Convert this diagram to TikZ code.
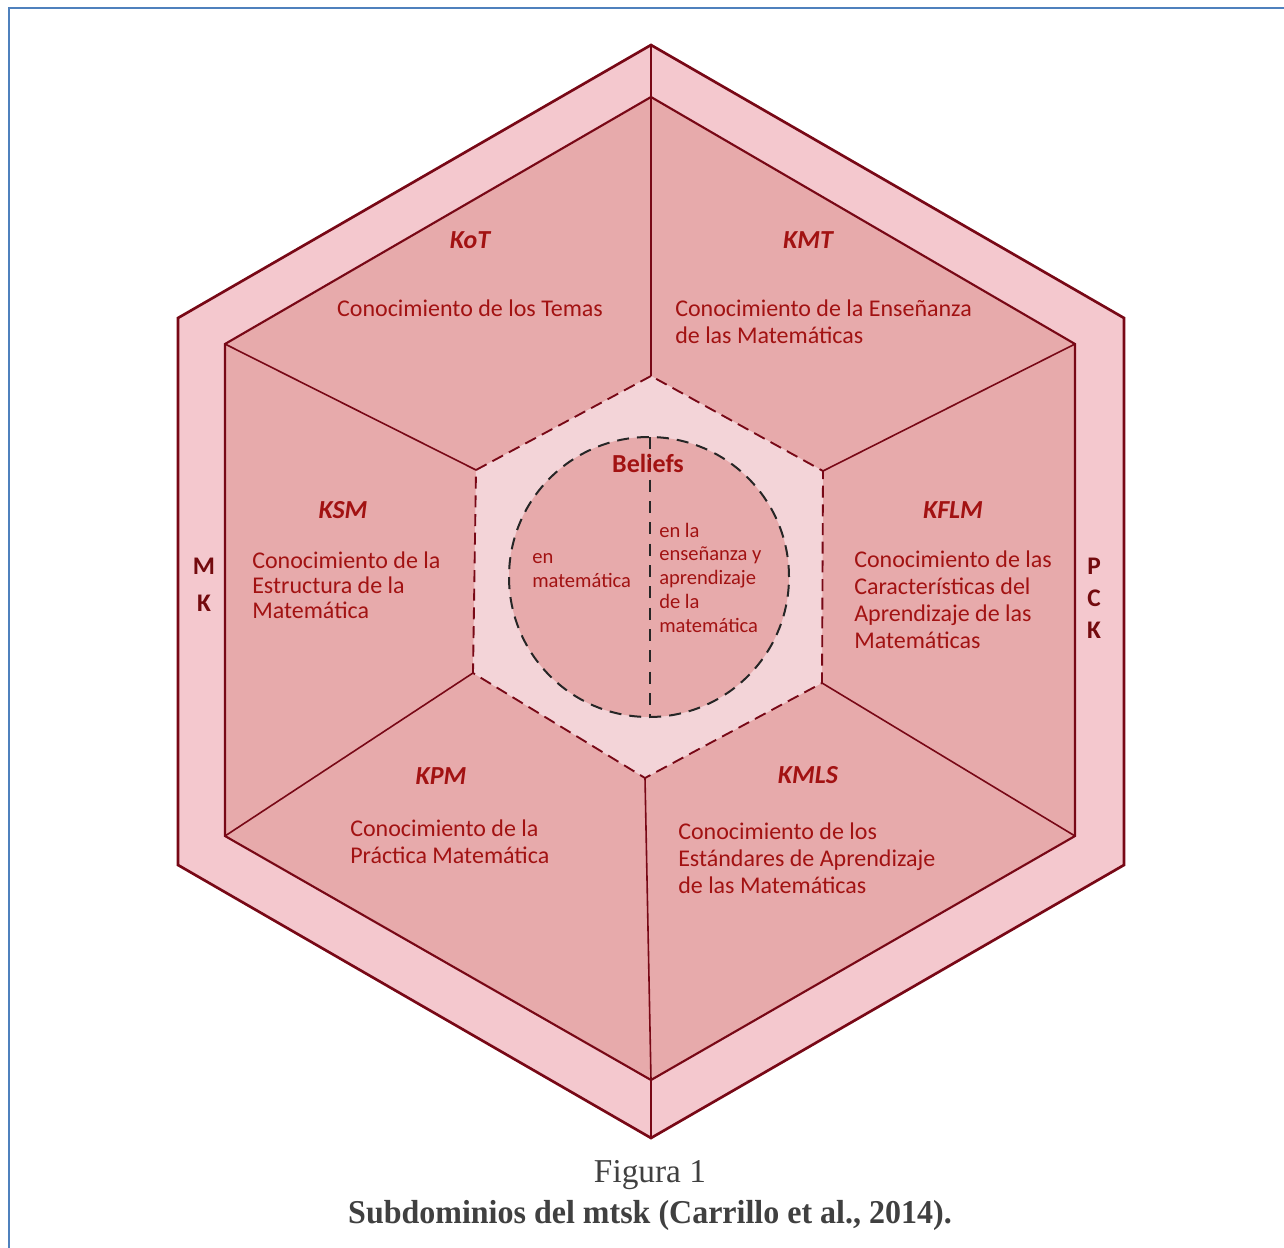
\documentclass[tikz,border=0pt]{standalone}
\usepackage{fontspec}
\setmainfont{Carlito}
\newfontfamily\capfont{Liberation Serif}
\definecolor{framebl}{RGB}{79,129,189}
\definecolor{ringfill}{RGB}{244,200,206}
\definecolor{secfill}{RGB}{231,170,171}
\definecolor{belring}{RGB}{243,212,216}
\definecolor{hexline}{RGB}{120,8,22}
\definecolor{txtred}{RGB}{162,18,18}
\definecolor{darkred}{RGB}{115,10,14}
\definecolor{capgray}{RGB}{64,64,64}
\tikzset{
  domtitle/.style={text=txtred,font=\fontsize{19.5}{22}\selectfont\bfseries\itshape,anchor=base,inner sep=0pt},
  domtext/.style={text=txtred,font=\fontsize{18}{20.25}\selectfont,align=left,anchor=base west,inner sep=0pt},
  beltext/.style={text=txtred,font=\fontsize{15.4}{17.8}\selectfont,align=left,anchor=base west,inner sep=0pt},
  ringletter/.style={text=darkred,font=\fontsize{19}{22}\selectfont\bfseries,anchor=base,inner sep=0pt},
  captxt/.style={text=capgray,font=\capfont\fontsize{25}{28}\selectfont,anchor=base,inner sep=0pt}
}
\begin{document}
\begin{tikzpicture}[x=0.75pt,y=-0.75pt]
\useasboundingbox (0,0) rectangle (1284,1248);
\draw[framebl,line width=2.2pt] (9,1248) -- (9,8) -- (1284,8);
% outer ring: MK / PCK
\coordinate (o1) at (651,45);   \coordinate (o2) at (178,318);
\coordinate (o3) at (178,865);  \coordinate (o4) at (651,1138);
\coordinate (o5) at (1124,865); \coordinate (o6) at (1124,318);
\filldraw[fill=ringfill,draw=hexline,line width=2pt,line join=miter] (o1)--(o2)--(o3)--(o4)--(o5)--(o6)--cycle;
% subdomains
\coordinate (s1) at (651,97);   \coordinate (s2) at (225,344);
\coordinate (s3) at (225,836);  \coordinate (s4) at (651,1080);
\coordinate (s5) at (1075,836); \coordinate (s6) at (1075,344);
\filldraw[fill=secfill,draw=hexline,line width=1.6pt] (s1)--(s2)--(s3)--(s4)--(s5)--(s6)--cycle;
\draw[hexline,line width=0.9pt] (o1)--(s1) (o4)--(s4);
% beliefs hexagon
\coordinate (b1) at (651,376);  \coordinate (b2) at (476,470);
\coordinate (b3) at (473,673);  \coordinate (b4) at (645,778);
\coordinate (b5) at (822,683);  \coordinate (b6) at (823,471);
\filldraw[fill=belring,draw=hexline,line width=1.4pt,dash pattern=on 9pt off 5pt] (b1)--(b2)--(b3)--(b4)--(b5)--(b6)--cycle;
\foreach \i in {1,...,6} \draw[hexline,line width=1.2pt] (s\i)--(b\i);
% circle
\coordinate (cc) at (649,577);
\filldraw[fill=secfill,draw=black!85,line width=1.5pt,dash pattern=on 9pt off 6pt] (cc) circle[radius=105pt];
\coordinate (ct) at (650,437); \coordinate (cb) at (650,717);
\draw[black!85,line width=1.3pt,dash pattern=on 9pt off 7pt] (ct)--(cb);
% labels (multi-line texts sit on the baseline of their last line)
\node[domtitle] (kot) at (470,248) {KoT};
\node[domtext,anchor=base] (kotx) at (470,316) {Conocimiento de los Temas};
\node[domtitle] (kmt) at (808,248) {KMT};
\node[domtext] (kmtx) at (675,343) {Conocimiento de la Enseñanza\\de las Matemáticas};
\node[domtitle] (ksm) at (343,518) {KSM};
\node[domtext,font=\fontsize{18}{18.75}\selectfont] (ksmx) at (252,618) {Conocimiento de la\\Estructura de la\\Matemática};
\node[domtitle] (kflm) at (953,518) {KFLM};
\node[domtext] (kflmx) at (854,648) {Conocimiento de las\\Características del\\Aprendizaje de las\\Matemáticas};
\node[domtitle] (kpm) at (441,784) {KPM};
\node[domtext] (kpmx) at (350,863) {Conocimiento de la\\Práctica Matemática};
\node[domtitle] (kmls) at (808,783) {KMLS};
\node[domtext] (kmlsx) at (678,893) {Conocimiento de los\\Estándares de Aprendizaje\\de las Matemáticas};
\node[text=txtred,font=\fontsize{19.5}{22}\selectfont\bfseries,anchor=base,inner sep=0pt] (bel) at (648,472) {Beliefs};
\node[beltext] (belm) at (532,587) {en\\matemática};
\node[beltext] (belea) at (659,632) {en la\\enseñanza y\\aprendizaje\\de la\\matemática};
\node[ringletter] (m) at (204,574) {M};
\node[ringletter] (k1) at (204,611) {K};
\node[ringletter] (p) at (1094,574) {P};
\node[ringletter] (c) at (1094,606) {C};
\node[ringletter] (k2) at (1094,638) {K};
\node[captxt] (fig) at (650,1182) {Figura 1};
\node[captxt,font=\capfont\bfseries\fontsize{25}{28}\selectfont] (tit) at (650,1223) {\scalebox{0.96}[1]{Subdominios del mtsk (Carrillo et al., 2014).}};
\end{tikzpicture}
\end{document}
